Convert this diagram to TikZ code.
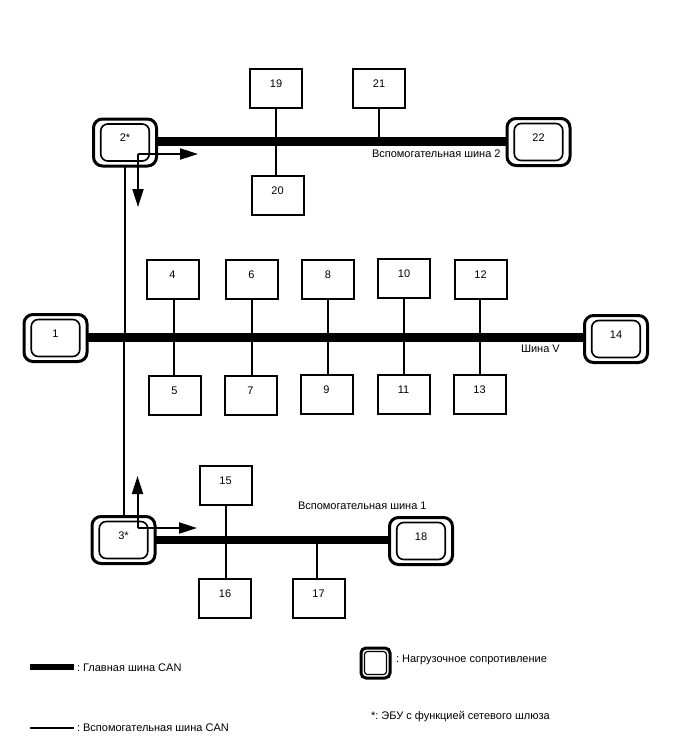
\documentclass[tikz,border=0pt]{standalone}
\usepackage{fontspec}
\setmainfont{Liberation Sans}
\usetikzlibrary{arrows.meta}
\frenchspacing
\tikzset{
  x=1pt,y=-1pt,
  every node/.style={inner sep=0pt,outer sep=0pt},
  unitbox/.style={draw=black,line width=2pt,fill=white,minimum width=52pt,minimum height=39pt,text depth=9pt,font=\fontsize{11}{12}\selectfont},
  ecuouter/.style={draw=black,line width=3pt,fill=white,rounded corners=9pt,minimum width=63pt,minimum height=47pt},
  ecuinner/.style={draw=black,line width=1.6pt,fill=white,rounded corners=7pt,minimum width=48.5pt,minimum height=37pt,text depth=9pt,font=\fontsize{11}{12}\selectfont},
  mainbus/.style={line width=8.5pt,black},
  subbus/.style={line width=2pt,black},
  flow/.style={line width=2pt,black,-{Triangle[length=18pt,width=11pt]}},
  caption/.style={font=\fontsize{11}{13}\selectfont,anchor=base west},
}
\newcommand{\ecu}[4]{% name, x, y, text
  \node[ecuouter] (#1) at (#2,#3) {};
  \node[ecuinner] (#1i) at (#2,#3) {#4};
}
\begin{document}
\begin{tikzpicture}
\useasboundingbox (0,0) rectangle (688,755);

% ECUs with terminating resistors
\ecu{n1}{55.5}{338}{1}
\ecu{n14}{616}{339}{14}
\ecu{n2}{125}{142.5}{2*}
\ecu{n22}{538.5}{142}{22}
\ecu{n3}{123.5}{540}{3*}
\ecu{n18}{421}{541}{18}

% Auxiliary bus running between the two gateways
\coordinate (jv1) at (125,338);
\coordinate (jv2) at (124,338);
\draw[subbus] (n2.south -| jv1) -- (jv1);
\draw[subbus] (jv2) -- (n3.north -| jv2);

% Stations on the upper auxiliary bus
\node[unitbox] (n19) at (276,88.5) {19};
\node[unitbox] (n20) at (277.5,195.5) {20};
\node[unitbox] (n21) at (379,88.5) {21};
% Stations on bus V
\node[unitbox] (n4) at (172.5,279.5) {4};
\node[unitbox] (n5) at (174.5,395) {5};
\node[unitbox] (n6) at (251.5,279.5) {6};
\node[unitbox] (n7) at (250.5,395) {7};
\node[unitbox] (n8) at (328,279.5) {8};
\node[unitbox] (n9) at (326.5,394.5) {9};
\node[unitbox] (n10) at (404,278.5) {10};
\node[unitbox] (n11) at (403.5,394.5) {11};
\node[unitbox] (n12) at (480.5,279.5) {12};
\node[unitbox] (n13) at (479.5,394.5) {13};
% Stations on the lower auxiliary bus
\node[unitbox] (n15) at (225.5,485) {15};
\node[unitbox] (n16) at (225,598.5) {16};
\node[unitbox] (n17) at (318.5,598.5) {17};

% Stubs from the stations through the buses
\foreach \a/\b/\px in {n19/n20/276, n4/n5/174, n6/n7/252, n8/n9/328, n10/n11/404, n12/n13/480, n15/n16/226}
  \draw[subbus] (\a.south -| \px,0) -- (\b.north -| \px,0);
\draw[subbus] (n21.south -| 379,0) -- (379,141.5);
\draw[subbus] (n17.north -| 317,0) -- (317,540);

% Main buses
\draw[mainbus] (n2.east |- 0,141.5) -- (n22.west |- 0,141.5);
\draw[mainbus] (n1.east |- 0,337.5) -- (n14.west |- 0,337.5);
\draw[mainbus] (n3.east |- 0,540) -- (n18.west |- 0,540);

% Gateway data flow
\coordinate (c2) at (138,154);
\coordinate (c2r) at (198,154);
\coordinate (c2d) at (138,207);
\draw[flow] (c2) -- (c2r);
\draw[flow] (c2) -- (c2d);
\coordinate (c3) at (137.5,528);
\coordinate (c3r) at (197,528);
\coordinate (c3u) at (137.5,476);
\draw[flow] (c3) -- (c3r);
\draw[flow] (c3) -- (c3u);

% Bus names
\node[caption] (lb2) at (372,157) {Вспомогательная шина 2};
\node[caption] (lbv) at (521,352) {Шина V};
\node[caption] (lb1) at (298,509) {Вспомогательная шина 1};

% Legend
\coordinate (la) at (30,666.5);
\coordinate (lb) at (74,666.5);
\draw[line width=6pt,black] (la) -- (lb);
\coordinate (lc) at (30,728);
\coordinate (ld) at (74,728);
\draw[line width=2.4pt,black] (lc) -- (ld);
\node[caption] (t1) at (77,671) {: Главная шина CAN};
\node[caption] (t2) at (77,731) {: Вспомогательная шина CAN};
\node[ecuouter,minimum width=29pt,minimum height=30pt,rounded corners=5pt] (lr) at (375.5,663) {};
\node[ecuinner,minimum width=22pt,minimum height=23pt,rounded corners=3pt,line width=1.2pt] (lri) at (375.5,663) {};
\node[caption] (t3) at (396,662) {: Нагрузочное сопротивление};
\node[caption] (t4) at (371,719) {*: ЭБУ с функцией сетевого шлюза};
\end{tikzpicture}
\end{document}
